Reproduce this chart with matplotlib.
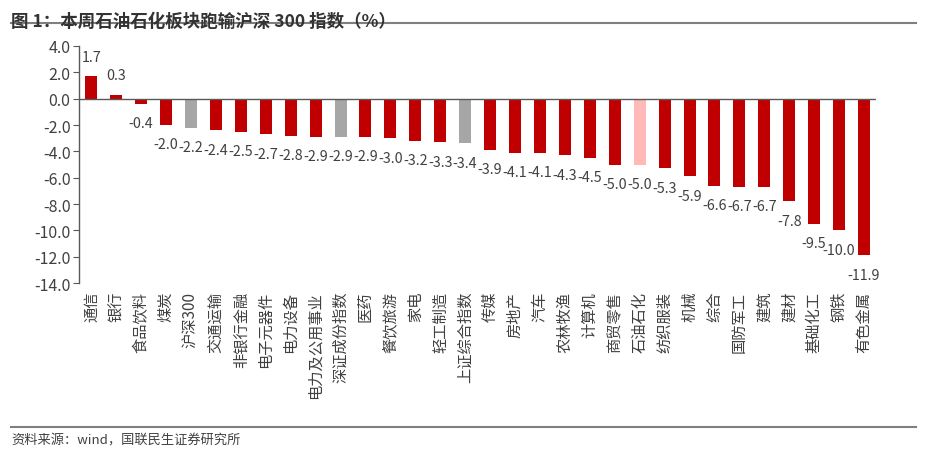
import numpy as np
import matplotlib.pyplot as plt
from matplotlib.lines import Line2D

plt.rcParams['font.family'] = ['Noto Sans CJK SC', 'DejaVu Sans']

sectors = ['通信', '银行', '食品饮料', '煤炭', '沪深300', '交通运输', '非银行金融', '电子元器件',
           '电力设备', '电力及公用事业', '深证成份指数', '医药', '餐饮旅游', '家电', '轻工制造',
           '上证综合指数', '传媒', '房地产', '汽车', '农林牧渔', '计算机', '商贸零售', '石油石化',
           '纺织服装', '机械', '综合', '国防军工', '建筑', '建材', '基础化工', '钢铁', '有色金属']
returns = [1.7, 0.3, -0.4, -2.0, -2.2, -2.4, -2.5, -2.7, -2.8, -2.9, -2.9, -2.9, -3.0, -3.2, -3.3,
           -3.4, -3.9, -4.1, -4.1, -4.3, -4.5, -5.0, -5.0, -5.3, -5.9, -6.6, -6.7, -6.7, -7.8,
           -9.5, -10.0, -11.9]
indices = ['沪深300', '深证成份指数', '上证综合指数']
highlight = '石油石化'

RED = '#C00000'
GREY = '#A6A6A6'
PINK = '#FFB9B9'
TXT = '#404040'

colors = []
for s in sectors:
    if s in indices:
        colors.append(GREY)
    elif s == highlight:
        colors.append(PINK)
    else:
        colors.append(RED)

fig = plt.figure(figsize=(9.27, 4.56), dpi=100)
ax = fig.add_axes([0.085, 0.377, 0.8605, 0.52])

x = np.arange(len(sectors))
ax.bar(x, returns, width=0.48, color=colors, zorder=2)

for xi, v in zip(x, returns):
    off = 14 if v >= 0 else -14
    ax.annotate('{:.1f}'.format(v), (xi, v), xytext=(0, off), textcoords='offset points',
                ha='center', va='center', fontsize=10.3, color=TXT)

ax.set_ylim(-14, 4)
ax.set_xlim(-0.5, len(sectors) - 0.5)
yt = np.arange(-14, 4.1, 2)
ax.set_yticks(yt)
ax.set_yticklabels(['{:.1f}'.format(t) for t in yt], fontsize=11.5, color=TXT)

for sp in ['top', 'right', 'bottom']:
    ax.spines[sp].set_visible(False)
ax.spines['left'].set_color('#595959')
ax.spines['left'].set_linewidth(1.0)
ax.axhline(0, color='#595959', lw=1.0, zorder=3)
ax.tick_params(axis='y', direction='out', length=4, color='#595959', pad=2)

ax.set_xticks(x)
ax.set_xticklabels([])
ax.tick_params(axis='x', length=0)
for xi, s in zip(x, sectors):
    ax.text(xi, -14.6, s, rotation=90, ha='center', va='top', fontsize=11, color=TXT,
            transform=ax.transData, clip_on=False)

fig.text(0.012, 0.972, '图 1：本周石油石化板块跑输沪深 300 指数（%）', fontsize=12.6,
         fontweight='bold', color='#333333', va='top', ha='left')
fig.add_artist(Line2D([0.012, 0.988], [0.947, 0.947], color='#7F7F7F', lw=1.5,
                      transform=fig.transFigure))
fig.add_artist(Line2D([0.012, 0.988], [0.062, 0.062], color='#7F7F7F', lw=1.5,
                      transform=fig.transFigure))
fig.text(0.012, 0.033, '资料来源：wind，国联民生证券研究所', fontsize=9.5, color='#404040',
         va='center', ha='left')

fig.savefig('out.png', dpi=100)
